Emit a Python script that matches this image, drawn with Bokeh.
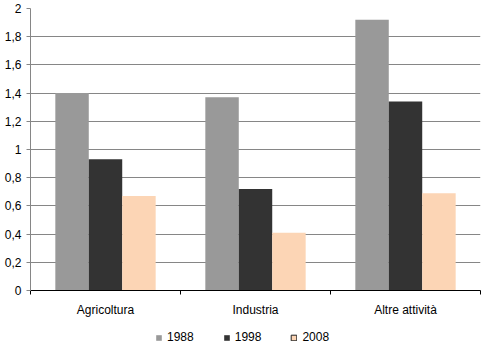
from bokeh.plotting import figure
from bokeh.layouts import column
from bokeh.models import (Range1d, FixedTicker, LinearAxis, Legend, LegendItem,
                          ColumnDataSource)
from bokeh.embed import file_html
from bokeh.resources import INLINE

categories = ["Agricoltura", "Industria", "Altre attività"]
years = ["1988", "1998", "2008"]
v1988 = [1.40, 1.37, 1.92]
v1998 = [0.93, 0.72, 1.34]
v2008 = [0.67, 0.41, 0.69]
colors = ["#999999", "#333333", "#FCD5B5"]
y_ticks = [0, 0.2, 0.4, 0.6, 0.8, 1.0, 1.2, 1.4, 1.6, 1.8, 2.0]
y_labels = ["0", "0,2", "0,4", "0,6", "0,8", "1", "1,2", "1,4", "1,6", "1,8", "2"]

FONT = "Liberation Sans"

p = figure(width=483, height=320, output_backend="svg", toolbar_location=None,
           x_range=Range1d(0, len(categories)), y_range=Range1d(0, 2),
           x_axis_location=None, y_axis_location=None,
           min_border_left=30, min_border_right=3, min_border_top=8,
           min_border_bottom=30)
p.outline_line_color = None
p.background_fill_color = "white"
p.border_fill_color = "white"

centers = [i + 0.5 for i in range(len(categories))]
bw = 0.223
series = [v1988, v1998, v2008]
for k, (vals, col) in enumerate(zip(series, colors)):
    src = ColumnDataSource(dict(x=[c + (k - 1) * bw for c in centers], top=vals))
    p.vbar(x="x", top="top", width=bw, bottom=0, source=src,
           fill_color=col, line_color=None)

# x axis: category labels at centers, ticks at boundaries (minor ticks)
xaxis = LinearAxis(ticker=FixedTicker(ticks=centers,
                                      minor_ticks=list(range(len(categories) + 1))))
xaxis.major_label_overrides = {c: name for c, name in zip(centers, categories)}
xaxis.major_tick_line_color = None
xaxis.major_tick_out = 0
xaxis.major_tick_in = 0
xaxis.minor_tick_line_color = "#000000"
xaxis.minor_tick_out = 4
xaxis.minor_tick_in = 0
xaxis.axis_line_color = "#000000"
xaxis.major_label_text_font = FONT
xaxis.major_label_text_font_size = "12px"
xaxis.major_label_text_color = "#000000"
xaxis.major_label_standoff = 8
p.add_layout(xaxis, "below")

yaxis = LinearAxis(ticker=FixedTicker(ticks=y_ticks, minor_ticks=[]))
yaxis.major_label_overrides = {t: l for t, l in zip(y_ticks, y_labels)}
yaxis.axis_line_color = "#868686"
yaxis.major_tick_line_color = "#868686"
yaxis.major_tick_out = 4
yaxis.major_tick_in = 0
yaxis.minor_tick_line_color = None
yaxis.major_label_text_font = FONT
yaxis.major_label_text_font_size = "12px"
yaxis.major_label_text_color = "#000000"
yaxis.major_label_standoff = 5
p.add_layout(yaxis, "left")

p.xgrid.visible = False
p.ygrid.ticker = FixedTicker(ticks=y_ticks)
p.ygrid.grid_line_color = "#868686"
p.ygrid.grid_line_width = 1

# legend figure below the chart
lf = figure(width=483, height=31, output_backend="svg", toolbar_location=None,
            x_range=Range1d(0, 1), y_range=Range1d(0, 1),
            x_axis_location=None, y_axis_location=None,
            min_border=0, outline_line_color=None)
lf.xgrid.visible = False
lf.ygrid.visible = False
lf.border_fill_color = "white"

items = []
nan = float("nan")
for yr, col in zip(years, colors):
    r = lf.quad(left=[nan], right=[nan], bottom=[nan], top=[nan],
                fill_color=col,
                line_color=("#222222" if yr == "2008" else None))
    items.append(LegendItem(label=yr, renderers=[r]))

legend = Legend(items=items, orientation="horizontal", location=(125, 7),
                glyph_width=7, glyph_height=7, label_standoff=5, spacing=29,
                padding=0, margin=0, label_height=14,
                label_text_font=FONT, label_text_font_size="12px",
                label_text_color="#000000", border_line_color=None,
                background_fill_alpha=0)
lf.add_layout(legend, "center")

layout = column(p, lf, spacing=0)
open("out.html", "w").write(file_html(layout, INLINE))
